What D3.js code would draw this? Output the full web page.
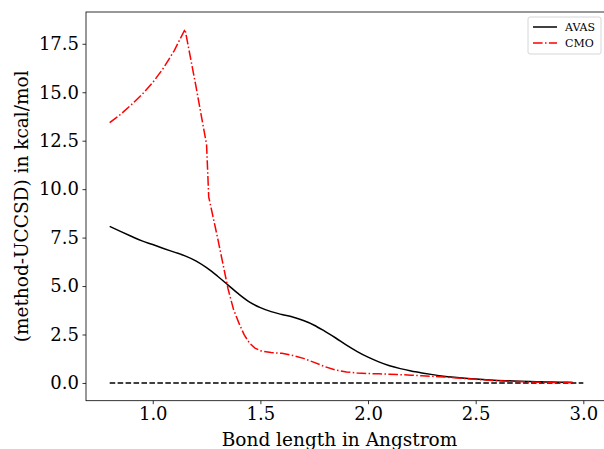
<!DOCTYPE html>
<html>
<head>
<meta charset="utf-8">
<script src="https://cdn.jsdelivr.net/npm/d3@7"></script>
<style>
  body { margin: 0; background: #fff; }
  svg { font-family: "DejaVu Serif", serif; }
</style>
</head>
<body>
<script>
// bond lengths (Angstrom) and errors vs UCCSD (kcal/mol)
const avasX = [0.80, 0.85, 0.90, 0.95, 1.00, 1.05, 1.10, 1.15, 1.20, 1.25, 1.30, 1.35, 1.40, 1.45,
  1.50, 1.55, 1.60, 1.65, 1.70, 1.75, 1.80, 1.85, 1.90, 1.95, 2.00, 2.05, 2.10, 2.15, 2.20, 2.25,
  2.30, 2.35, 2.40, 2.45, 2.50, 2.55, 2.60, 2.65, 2.70, 2.75, 2.80, 2.85, 2.90, 2.95];
const avasY = [8.08, 7.82, 7.57, 7.33, 7.14, 6.94, 6.75, 6.56, 6.30, 5.95, 5.52, 5.05, 4.58, 4.17,
  3.89, 3.68, 3.53, 3.40, 3.22, 2.98, 2.66, 2.32, 1.95, 1.62, 1.33, 1.09, 0.89, 0.74, 0.62, 0.52,
  0.43, 0.35, 0.29, 0.24, 0.20, 0.16, 0.13, 0.11, 0.09, 0.07, 0.06, 0.05, 0.04, 0.03];

const cmoX = [0.80, 0.85, 0.90, 0.95, 1.00, 1.05, 1.10, 1.15, 1.20, 1.25, 1.26, 1.30, 1.35, 1.375, 1.40,
  1.425, 1.45, 1.475, 1.50, 1.55, 1.60, 1.65, 1.70, 1.75, 1.80, 1.85, 1.90, 1.95, 2.00, 2.05, 2.10, 2.15, 2.20,
  2.25, 2.30, 2.35, 2.40, 2.45, 2.50, 2.55, 2.60, 2.65, 2.70, 2.75, 2.80, 2.85, 2.90, 2.95];
const cmoY = [13.43, 13.85, 14.35, 14.88, 15.50, 16.25, 17.15, 18.25, 15.35, 12.30, 9.60, 7.55, 4.85, 3.80, 3.10,
  2.48, 2.05, 1.80, 1.66, 1.57, 1.53, 1.42, 1.27, 1.06, 0.84, 0.67, 0.57, 0.51, 0.49, 0.47, 0.45, 0.43, 0.40,
  0.37, 0.34, 0.31, 0.27, 0.23, 0.19, 0.15, 0.12, 0.09, 0.07, 0.05, 0.04, 0.03, 0.03, 0.02];

const refX = [0.8, 3.0];
const refY = [0, 0];

const xTicks = [1.0, 1.5, 2.0, 2.5, 3.0];
const yTicks = [0, 2.5, 5, 7.5, 10, 12.5, 15, 17.5];

const W = 604, H = 449;
const plotLeft = 86, plotTop = 12, plotRight = 607, plotBottom = 400.7;

const svg = d3.select("body").append("svg")
  .attr("width", W)
  .attr("height", H);

const x = d3.scaleLinear().domain([0.69, 3.11]).range([plotLeft, plotRight]);
const y = d3.scaleLinear().domain([-0.915, 19.14]).range([plotBottom, plotTop]);

// frame
svg.append("rect")
  .attr("x", plotLeft).attr("y", plotTop)
  .attr("width", plotRight - plotLeft).attr("height", plotBottom - plotTop)
  .attr("fill", "none").attr("stroke", "#000").attr("stroke-width", 0.8);

const xAxis = svg.append("g")
  .attr("transform", `translate(0,${plotBottom})`)
  .call(d3.axisBottom(x).tickValues(xTicks).tickFormat(d3.format(".1f")).tickSize(3.5).tickPadding(3.5));
const yAxis = svg.append("g")
  .attr("transform", `translate(${plotLeft},0)`)
  .call(d3.axisLeft(y).tickValues(yTicks).tickFormat(d3.format(".1f")).tickSize(3.5).tickPadding(3.5));

[xAxis, yAxis].forEach(g => {
  g.select(".domain").remove();
  g.selectAll(".tick line").attr("stroke", "#000").attr("stroke-width", 0.8);
  g.selectAll(".tick text")
    .attr("fill", "#000")
    .style("font-family", "DejaVu Serif, serif")
    .style("font-size", "18px");
});

const line = (xs, ys, curve) => d3.line()
  .x(i => x(xs[i]))
  .y(i => y(ys[i]))
  .curve(curve)(d3.range(xs.length));

svg.append("path")
  .attr("d", line(refX, refY, d3.curveLinear))
  .attr("fill", "none").attr("stroke", "#000").attr("stroke-width", 1.5)
  .attr("stroke-dasharray", "5.55,2.4");

svg.append("path")
  .attr("d", line(avasX, avasY, d3.curveMonotoneX))
  .attr("fill", "none").attr("stroke", "#000").attr("stroke-width", 1.5);

svg.append("path")
  .attr("d", line(cmoX, cmoY, d3.curveLinear))
  .attr("fill", "none").attr("stroke", "#ff0000").attr("stroke-width", 1.5)
  .attr("stroke-dasharray", "9.6,2.4,1.5,2.4");

// axis labels
svg.append("text")
  .attr("x", (plotLeft + plotRight) / 2 - 7).attr("y", 446)
  .attr("text-anchor", "middle")
  .style("font-size", "18.5px")
  .text("Bond length in Angstrom");

svg.append("text")
  .attr("transform", `translate(28,${(plotTop + plotBottom) / 2}) rotate(-90)`)
  .attr("text-anchor", "middle")
  .style("font-size", "18.5px")
  .text("(method-UCCSD) in kcal/mol");

// legend
const legend = svg.append("g").attr("transform", "translate(528,17)");
legend.append("rect")
  .attr("width", 73).attr("height", 37).attr("rx", 2)
  .attr("fill", "#fff").attr("fill-opacity", 0.8)
  .attr("stroke", "#ccc").attr("stroke-width", 0.8);

const legendItems = [
  { name: "AVAS", color: "#000", dash: null },
  { name: "CMO", color: "#ff0000", dash: "9.6,2.4,1.5,2.4" }
];
legendItems.forEach((d, i) => {
  const row = legend.append("g").attr("transform", `translate(0,${10 + i * 16})`);
  row.append("line")
    .attr("x1", 5).attr("x2", 29)
    .attr("stroke", d.color).attr("stroke-width", 1.5)
    .attr("stroke-dasharray", d.dash);
  row.append("text")
    .attr("x", 37).attr("y", 4)
    .style("font-size", "11px")
    .text(d.name);
});
</script>
</body>
</html>
